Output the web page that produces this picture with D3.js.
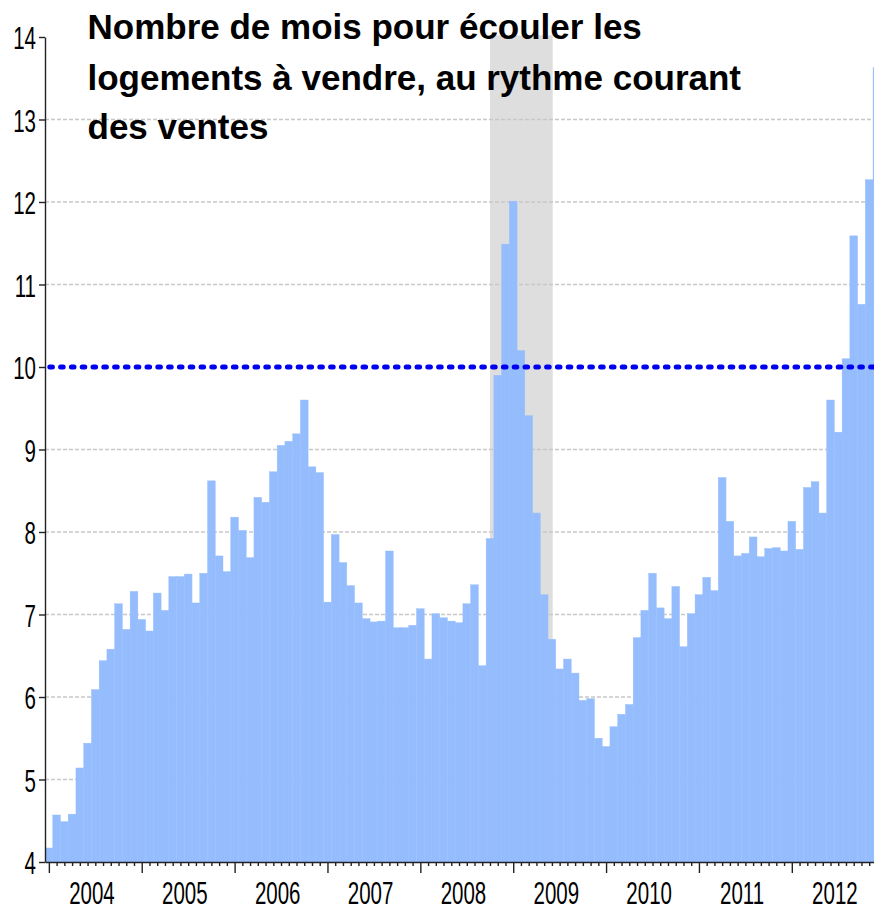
<!DOCTYPE html>
<meta charset="utf-8">
<style>
body { margin: 0; background: #fff; }
svg { display: block; }
.grid line { stroke: #c8c8c8; stroke-width: 1.3; stroke-dasharray: 4,2; }
.bar { fill: #95bdfd; stroke: #95bdfd; stroke-width: 0.4; }
.axis path, .axis line { stroke: #222; stroke-width: 1.4; }
.axis text { font-family: "Liberation Sans", Arial, sans-serif; font-size: 32px; fill: #000; }
.title { font-family: "Liberation Sans", Arial, sans-serif; font-weight: bold; font-size: 35px; fill: #000; }
</style>
<svg width="874" height="911"></svg>
<script src="https://d3js.org/d3.v7.min.js"></script>
<script>

// monthly values, Jan 2004 .. Dec 2012
var values2004 = [4.17, 4.57, 4.49, 4.58, 5.14, 5.44, 6.09, 6.44, 6.58, 7.13, 6.82, 7.28],
    values2005 = [6.94, 6.80, 7.26, 7.05, 7.46, 7.46, 7.49, 7.14, 7.50, 8.62, 7.71, 7.52],
    values2006 = [8.18, 8.02, 7.69, 8.42, 8.36, 8.73, 9.05, 9.10, 9.19, 9.60, 8.79, 8.72],
    values2007 = [7.15, 7.97, 7.63, 7.35, 7.14, 6.95, 6.91, 6.92, 7.77, 6.84, 6.84, 6.87],
    values2008 = [7.07, 6.46, 7.01, 6.96, 6.92, 6.90, 7.13, 7.36, 6.38, 7.92, 9.90, 11.49],
    values2009 = [12.01, 10.20, 9.41, 8.23, 7.24, 6.70, 6.34, 6.46, 6.29, 5.96, 5.98, 5.50],
    values2010 = [5.40, 5.64, 5.79, 5.91, 6.72, 7.05, 7.50, 7.08, 6.95, 7.34, 6.61, 7.01],
    values2011 = [7.24, 7.45, 7.29, 8.66, 8.13, 7.71, 7.74, 7.94, 7.70, 7.80, 7.81, 7.77],
    values2012 = [8.13, 7.79, 8.54, 8.61, 8.23, 9.60, 9.21, 10.10, 11.59, 10.76, 12.27, 13.63];

var years = [2004, 2005, 2006, 2007, 2008, 2009, 2010, 2011, 2012];
var yTicks = [4, 5, 6, 7, 8, 9, 10, 11, 12, 13, 14];
var threshold = 10;
var recession = [57.5, 65.6]; // in months since Jan 2004
var titleLines = ["Nombre de mois pour écouler les",
                  "logements à vendre, au rythme courant",
                  "des ventes"];

var values = [].concat(values2004, values2005, values2006, values2007, values2008,
                       values2009, values2010, values2011, values2012);

var svg = d3.select("svg"),
    plotL = 45, plotR = 874, plotT = 37, plotB = 862;

var x = d3.scaleLinear().domain([0, 107.12]).range([plotL, plotR]),
    y = d3.scaleLinear().domain([4, 14]).range([plotB, plotT]);

var sx = 0.64; // condensed tick labels

svg.append("defs").append("clipPath").attr("id", "plot")
  .append("rect").attr("x", plotL).attr("y", 0).attr("width", plotR - plotL).attr("height", plotB);

var g = svg.append("g").attr("clip-path", "url(#plot)");

// recession band
g.append("rect")
    .attr("x", x(recession[0]))
    .attr("y", y(14.02))
    .attr("width", x(recession[1]) - x(recession[0]))
    .attr("height", plotB - y(14.02))
    .attr("fill", "#dedede");

// grid
g.append("g").attr("class", "grid")
  .selectAll("line")
  .data(yTicks.filter(function(d) { return d > 4 && d < 14 && d != threshold; }))
  .enter().append("line")
    .attr("x1", plotL).attr("x2", plotR)
    .attr("y1", function(d) { return y(d); })
    .attr("y2", function(d) { return y(d); });

// bars
g.selectAll(".bar")
  .data(values)
  .enter().append("rect")
    .attr("class", "bar")
    .attr("x", function(d, i) { return x(i); })
    .attr("y", function(d) { return y(d); })
    .attr("width", x(1) - x(0))
    .attr("height", function(d) { return plotB - y(d); });

// threshold line
g.append("line")
    .attr("x1", x(0) + 4.8).attr("x2", plotR + 5)
    .attr("y1", y(threshold)).attr("y2", y(threshold))
    .attr("stroke", "#0000f0")
    .attr("stroke-width", 5)
    .attr("stroke-linecap", "round")
    .attr("stroke-dasharray", "2.6 8.2");

// y axis
var yAxis = svg.append("g")
    .attr("class", "axis")
    .attr("transform", "translate(" + plotL + ",0)")
    .call(d3.axisLeft(y).tickValues(yTicks).tickSize(6).tickSizeOuter(0).tickFormat(d3.format("d")));
yAxis.selectAll("text")
    .attr("x", -9 / sx)
    .attr("dy", "0.36em")
    .attr("transform", "scale(" + sx + ",1)");

// x axis: month ticks
var months = d3.range(0, 108).map(function(i) { return i + 0.5; })
    .filter(function(d) { return x(d) <= plotR; });

svg.append("g")
    .attr("class", "axis")
    .attr("transform", "translate(0," + plotB + ")")
    .call(d3.axisBottom(x).tickValues(months.filter(function(d, i) { return i % 12 != 0; }))
      .tickSize(4).tickSizeOuter(0).tickFormat(""));

svg.append("g")
    .attr("class", "axis")
    .attr("transform", "translate(0," + plotB + ")")
    .call(d3.axisBottom(x).tickValues(months.filter(function(d, i) { return i % 12 == 0; }))
      .tickSize(11).tickSizeOuter(0).tickFormat(""))
    .select(".domain").remove();

var yearAxis = svg.append("g")
    .attr("class", "axis")
    .attr("transform", "translate(0," + plotB + ")")
    .call(d3.axisBottom(x).tickValues(years.map(function(d) { return (d - 2004) * 12 + 6; }))
      .tickSize(0).tickPadding(19).tickFormat(function(d) { return years[(d - 6) / 12]; }));
yearAxis.select(".domain").remove();
yearAxis.selectAll(".tick text").attr("transform", "scale(" + sx + ",1)");

// title
svg.append("text")
    .attr("class", "title")
    .attr("x", 87.5)
  .selectAll("tspan")
  .data(titleLines)
  .enter().append("tspan")
    .attr("x", 87.5)
    .attr("y", function(d, i) { return [39, 90, 139][i]; })
    .text(function(d) { return d; });

</script>
